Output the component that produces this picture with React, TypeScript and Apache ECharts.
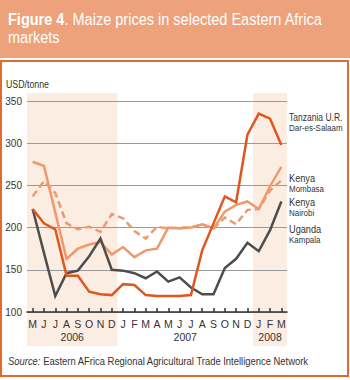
import React, { useEffect, useRef } from "react";
import * as echarts from "echarts";

const periods = [
  "2006-05", "2006-06", "2006-07", "2006-08", "2006-09", "2006-10", "2006-11", "2006-12",
  "2007-01", "2007-02", "2007-03", "2007-04", "2007-05", "2007-06", "2007-07", "2007-08",
  "2007-09", "2007-10", "2007-11", "2007-12", "2008-01", "2008-02", "2008-03",
];
const monthLabels = ["M", "J", "J", "A", "S", "O", "N", "D", "J", "F", "M", "A", "M", "J", "J", "A", "S", "O", "N", "D", "J", "F", "M"];
const years = ["2006", "2007", "2008"];
const yearSpans = [[0, 7], [8, 19], [20, 22]];
const shadedSpans = [[0, 7], [20, 22]];

const tanzania = [222, 205, 198, 143, 143, 124, 121, 120, 133, 132, 120, 119, 119, 119, 120, 173, 205, 237, 230, 310, 335, 329, 298];
const kenyaMombasa = [278, 273, 218, 163, 175, 180, 183, 168, 177, 165, 173, 175, 200, 199, 200, 204, 199, 219, 227, 231, 222, 249, 272];
const kenyaNairobi = [237, 255, 241, 205, 198, 201, 195, 216, 211, 196, 187, 201, 199, 200, 200, 204, 199, 212, 204, 221, 222, 244, 256];
const uganda = [222, 170, 119, 146, 149, 166, 187, 150, 149, 146, 140, 148, 136, 141, 129, 121, 121, 152, 163, 182, 172, 197, 231];

const yMin = 100;
const yMax = 350;
const yStep = 50;

const FONT = "'Liberation Sans', Arial, sans-serif";
const TEXT = "#333333";
const C_TZ = "#E0561F";
const C_KE = "#F0996C";
const C_UG = "#4D4D4D";

export default function App() {
  const ref = useRef<HTMLDivElement>(null);
  useEffect(() => {
    if (!ref.current) return;
    const chart = echarts.init(ref.current, null, { renderer: "svg" });
    const lineSeries = (name: string, data: number[], color: string, dashed = false) => ({
      name,
      type: "line",
      data,
      symbol: "none",
      lineStyle: { color, width: 2.5, type: dashed ? [7, 4] : "solid", cap: "butt", join: "miter" },
      z: 3,
    });
    chart.setOption({
      animation: false,
      textStyle: { fontFamily: FONT },
      grid: { left: 27, right: 63, top: 101, bottom: 68 },
      xAxis: {
        type: "category",
        data: periods,
        boundaryGap: true,
        axisLine: { lineStyle: { color: TEXT, width: 1.5 } },
        axisTick: { show: true, alignWithLabel: true, inside: true, length: 4, lineStyle: { color: TEXT, width: 1.5 } },
        axisLabel: {
          interval: 0,
          color: TEXT,
          fontSize: 10.5,
          fontFamily: FONT,
          margin: 6,
          formatter: (_v: string, i: number) => monthLabels[i],
        },
        splitLine: { show: false },
      },
      yAxis: {
        type: "value",
        min: yMin,
        max: yMax,
        interval: yStep,
        axisLine: { show: false },
        axisTick: { show: false },
        axisLabel: { color: TEXT, fontSize: 10, fontFamily: FONT, margin: 5 },
        splitLine: { lineStyle: { color: "#9a9a9a", width: 1 } },
      },
      series: [
        lineSeries("Kenya Nairobi", kenyaNairobi, C_KE, true),
        lineSeries("Kenya Mombasa", kenyaMombasa, C_KE),
        lineSeries("Uganda Kampala", uganda, C_UG),
        lineSeries("Tanzania U.R. Dar-es-Salaam", tanzania, C_TZ),
      ],
    });

    const px = (i: number) => chart.convertToPixel({ xAxisIndex: 0 }, periods[i]) as number;
    const step = px(1) - px(0);
    const bands = shadedSpans.map(([a, b]) => ({
      type: "rect",
      z: -10,
      shape: { x: px(a) - step / 2, y: 93, width: px(b) - px(a) + step, height: 253 },
      style: { fill: "#FCEDE3" },
    }));
    const yearTexts = years.map((yr, k) => ({
      type: "text",
      z: 5,
      x: (px(yearSpans[k][0]) + px(yearSpans[k][1])) / 2,
      y: 337,
      style: { text: yr, fill: TEXT, font: `10.5px ${FONT}`, textAlign: "center", textVerticalAlign: "middle" },
    }));
    const label = (main: string, sub: string, y: number, sx = 0.8) => [
      { type: "text", z: 5, x: 289, y, scaleX: sx, style: { text: main, fill: TEXT, font: `11.5px ${FONT}`, textVerticalAlign: "middle" } },
      { type: "text", z: 5, x: 289, y: y + 11, scaleX: 0.84, style: { text: sub, fill: TEXT, font: `9.5px ${FONT}`, textVerticalAlign: "middle" } },
    ];
    chart.setOption({
      graphic: [
        { type: "rect", z: -20, shape: { x: 0, y: 0, width: 350, height: 58 }, style: { fill: "#EDA27B" } },
        { type: "rect", z: -20, shape: { x: 1, y: 61, width: 347, height: 315 }, style: { fill: "none", stroke: "#E3692F", lineWidth: 2 } },
        {
          type: "text",
          z: 5,
          x: 8,
          y: 10,
          scaleX: 0.88,
          style: {
            text: "{b|Figure 4}{n|. Maize prices in selected Eastern Africa}\n{n|markets}",
            fill: "#ffffff",
            rich: {
              b: { fontFamily: FONT, fontSize: 16.5, fontWeight: "bold", fill: "#ffffff", lineHeight: 18 },
              n: { fontFamily: FONT, fontSize: 16.5, fill: "#ffffff", lineHeight: 18 },
            },
          },
        },
        { type: "text", z: 5, x: 6, y: 84, scaleX: 0.88, style: { text: "USD/tonne", fill: TEXT, font: `10px ${FONT}`, textVerticalAlign: "middle" } },
        ...bands,
        ...yearTexts,
        ...label("Tanzania U.R.", "Dar-es-Salaam", 117, 0.74),
        ...label("Kenya", "Mombasa", 178),
        ...label("Kenya", "Nairobi", 202),
        ...label("Uganda", "Kampala", 229),
        {
          type: "text",
          z: 5,
          x: 8,
          y: 361,
          scaleX: 0.82,
          style: {
            text: "{i|Source:} {n|Eastern AFrica Regional Agricultural Trade Intelligence Network}",
            fill: TEXT,
            textVerticalAlign: "middle",
            rich: {
              i: { fontFamily: FONT, fontSize: 11.5, fontStyle: "italic", fill: TEXT },
              n: { fontFamily: FONT, fontSize: 11.5, fill: TEXT },
            },
          },
        },
      ],
    });
    return () => chart.dispose();
  }, []);
  return <div ref={ref} style={{ position: "absolute", left: 0, top: 0, width: 350, height: 380 }} />;
}
